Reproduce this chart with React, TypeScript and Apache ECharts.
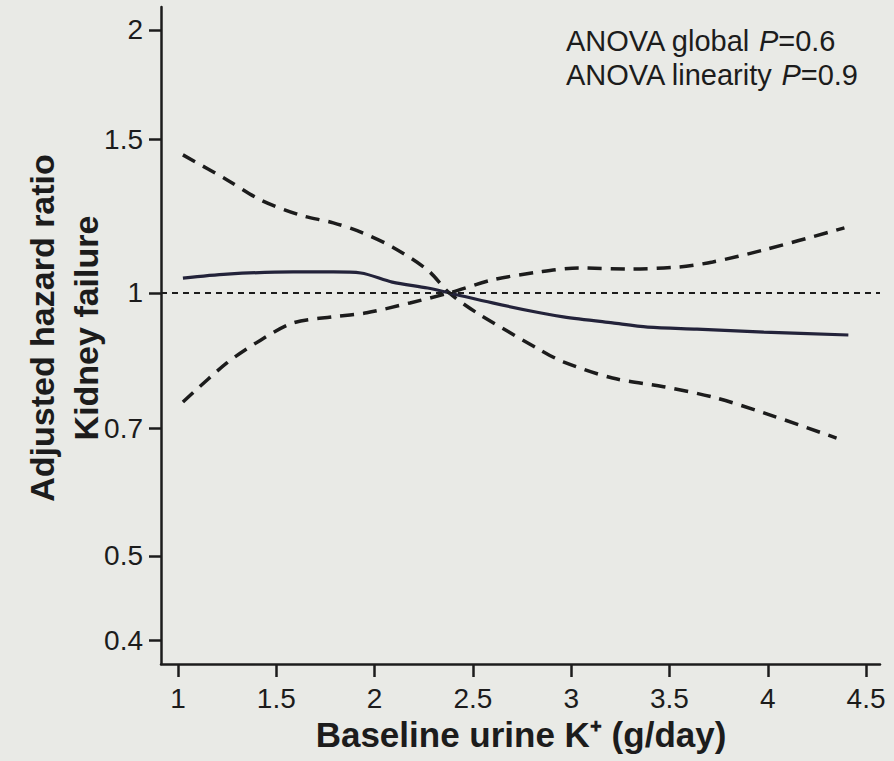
import React, { useEffect, useRef } from "react";
import * as echarts from "echarts";

// x values (Baseline urine K+, g/day) and y values (adjusted hazard ratio)
const hrX = [1.025, 1.25, 1.585, 1.79, 1.93, 2.09, 2.27, 2.38, 2.6, 2.84, 2.96, 3.21, 3.39, 3.64, 3.98, 4.41];
const hrY = [1.04, 1.051, 1.057, 1.057, 1.054, 1.029, 1.013, 1.0, 0.974, 0.949, 0.939, 0.924, 0.914, 0.909, 0.902, 0.895];

const ciAX = [1.025, 1.25, 1.42, 1.62, 1.79, 1.93, 2.09, 2.27, 2.38, 2.52, 2.84, 2.96, 3.21, 3.47, 3.72, 3.98, 4.35];
const ciAY = [1.439, 1.347, 1.278, 1.228, 1.203, 1.174, 1.129, 1.062, 1.0, 0.949, 0.861, 0.834, 0.799, 0.781, 0.76, 0.729, 0.682];

const ciBX = [1.025, 1.25, 1.42, 1.585, 1.79, 1.96, 2.18, 2.38, 2.6, 2.84, 3.04, 3.3, 3.55, 3.72, 3.98, 4.39];
const ciBY = [0.75, 0.832, 0.883, 0.924, 0.939, 0.949, 0.974, 1.0, 1.035, 1.057, 1.068, 1.065, 1.071, 1.085, 1.12, 1.187];

const xTicks = [1, 1.5, 2, 2.5, 3, 3.5, 4, 4.5];
const yTicks = [0.4, 0.5, 0.7, 1, 1.5, 2];

const refValue = 1;
const annotation1 = ["ANOVA global ", "P", "=0.6"];
const annotation2 = ["ANOVA linearity ", "P", "=0.9"];
const xTitle = "Baseline urine K⁺ (g/day)";
const yTitle1 = "Adjusted hazard ratio";
const yTitle2 = "Kidney failure";

const FONT = "Liberation Sans, Arial, Helvetica, sans-serif";
const INK = "#1c1c1c";

function pairs(xs: number[], ys: number[]) {
  return xs.map((x, i) => [x, ys[i]]);
}

export default function App() {
  const ref = useRef<HTMLDivElement>(null);
  useEffect(() => {
    if (!ref.current) return;
    const chart = echarts.init(ref.current, null, { renderer: "svg" });
    const tickLabel = { fontFamily: FONT, fontSize: 28, color: INK };
    const annRich = {
      n: { fontFamily: FONT, fontSize: 29, fill: INK },
      i: { fontFamily: FONT, fontSize: 29, fontStyle: "italic", fill: INK },
    };
    chart.setOption({
      animation: false,
      backgroundColor: "#e9eae6",
      grid: { left: 161, right: 14, top: 7, bottom: 97, containLabel: false },
      xAxis: {
        type: "value",
        min: 0.9135,
        max: 4.571,
        axisLine: { show: true, lineStyle: { color: INK, width: 2.5 } },
        axisTick: { show: true, length: 13, lineStyle: { color: INK, width: 2.5 }, customValues: xTicks },
        axisLabel: { ...tickLabel, margin: 20, customValues: xTicks, formatter: (v: number) => String(v) },
        splitLine: { show: false },
      },
      yAxis: {
        type: "log",
        logBase: 10,
        min: 0.376,
        max: 2.125,
        axisLine: { show: true, lineStyle: { color: INK, width: 2.5 } },
        axisTick: { show: true, length: 12, lineStyle: { color: INK, width: 2.5 }, customValues: yTicks },
        axisLabel: { ...tickLabel, margin: 18, customValues: yTicks, formatter: (v: number) => String(v) },
        splitLine: { show: false },
      },
      series: [
        {
          type: "line",
          data: pairs(ciAX, ciAY),
          smooth: 0.3,
          symbol: "none",
          lineStyle: { color: INK, width: 3.5, type: [14, 9] },
          z: 3,
        },
        {
          type: "line",
          data: pairs(ciBX, ciBY),
          smooth: 0.3,
          symbol: "none",
          lineStyle: { color: INK, width: 3.5, type: [14, 9] },
          z: 3,
        },
        {
          type: "line",
          data: pairs(hrX, hrY),
          smooth: 0.3,
          symbol: "none",
          lineStyle: { color: "#23233a", width: 3.2 },
          z: 4,
          markLine: {
            silent: true,
            symbol: "none",
            label: { show: false },
            lineStyle: { color: INK, width: 2, type: [6, 5] },
            data: [{ yAxis: refValue }],
          },
        },
      ],
      graphic: [
        {
          type: "text",
          left: 566,
          top: 26,
          style: { text: `{n|${annotation1[0]}}{i|${annotation1[1]}}{n|${annotation1[2]}}`, rich: annRich },
        },
        {
          type: "text",
          left: 566,
          top: 60,
          style: { text: `{n|${annotation2[0]}}{i|${annotation2[1]}}{n|${annotation2[2]}}`, rich: annRich },
        },
        {
          type: "text",
          x: 521,
          y: 734,
          style: {
            text: xTitle,
            fontFamily: FONT,
            fontSize: 35,
            fontWeight: "bold",
            fill: INK,
            textAlign: "center",
            textVerticalAlign: "middle",
          },
        },
        {
          type: "text",
          x: 42,
          y: 328,
          rotation: Math.PI / 2,
          style: {
            text: yTitle1,
            fontFamily: FONT,
            fontSize: 34,
            fontWeight: "bold",
            fill: INK,
            textAlign: "center",
            textVerticalAlign: "middle",
          },
        },
        {
          type: "text",
          x: 86,
          y: 328,
          rotation: Math.PI / 2,
          style: {
            text: yTitle2,
            fontFamily: FONT,
            fontSize: 34,
            fontWeight: "bold",
            fill: INK,
            textAlign: "center",
            textVerticalAlign: "middle",
          },
        },
      ],
    });
    return () => chart.dispose();
  }, []);
  return <div ref={ref} style={{ width: 894, height: 761, position: "absolute", left: 0, top: 0 }} />;
}
